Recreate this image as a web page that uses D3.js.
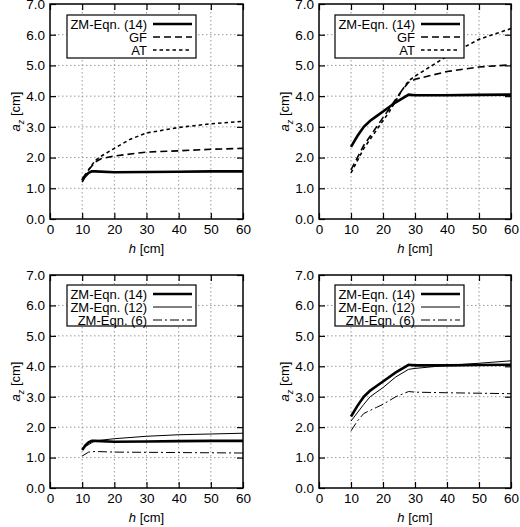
<!DOCTYPE html><html><head><script src="https://cdn.jsdelivr.net/npm/d3@7"></script>
<style>body{margin:0;background:#fff}text{font-family:"Liberation Sans",Arial,sans-serif;font-size:13px}</style></head><body>
<svg id="c" width="520" height="527"></svg>
<script>
const xTicks=[0,10,20,30,40,50,60];
const yTicks=[0,1,2,3,4,5,6,7];
const h1=[10,11,12,13,14,20,30,40,50,60];
const zmA=[1.25,1.4,1.5,1.55,1.55,1.52,1.53,1.54,1.55,1.55];
const hGF=[10,12,14,16,20,30,40,50,60];
const gfA=[1.3,1.6,1.85,1.97,2.05,2.18,2.22,2.27,2.3];
const hAT=[10,12,14,16,20,25,30,40,50,60];
const atA=[1.2,1.6,1.9,2.05,2.3,2.6,2.8,2.98,3.1,3.18];
const h2=[10,12,14,16,18,20,24,28,30,40,50,60];
const zmB=[2.35,2.7,3.0,3.2,3.35,3.5,3.8,4.05,4.03,4.03,4.04,4.05];
const hGF2=[10,14,18,22,26,28,30,40,50,60];
const gfB=[1.6,2.4,3.0,3.6,4.2,4.45,4.55,4.8,4.95,5.02];
const atB=[1.5,2.3,2.9,3.5,4.2,4.5,4.65,5.3,5.85,6.2];
const h12a=[10,14,20,30,40,60];
const e12A=[1.3,1.55,1.62,1.7,1.75,1.8];
const h6a=[10,12,14,20,60];
const e6A=[1.05,1.18,1.2,1.18,1.15];
const h12b=[10,14,16,20,24,28,30,40,50,60];
const e12B=[2.2,2.75,3.0,3.3,3.65,3.9,3.93,4.03,4.1,4.18];
const h6b=[10,12,14,18,20,24,28,30,40,60];
const e6B=[1.88,2.2,2.45,2.65,2.75,3.0,3.17,3.15,3.13,3.1];

const S={zm:{w:2.6,d:null},gf:{w:1.6,d:"7,4"},at:{w:1.6,d:"3.5,3"},e12:{w:1,d:null},e6:{w:1,d:"9,3,2,3"}};
const panels=[
 {x0:50,x1:243,y0:4,y1:219,series:[["ZM-Eqn. (14)","zm",h1,zmA],["GF","gf",hGF,gfA],["AT","at",hAT,atA]],leg:[67,15]},
 {x0:319,x1:511,y0:4,y1:219,series:[["ZM-Eqn. (14)","zm",h2,zmB],["GF","gf",hGF2,gfB],["AT","at",hGF2,atB]],leg:[335,15]},
 {x0:50,x1:243,y0:275,y1:488,series:[["ZM-Eqn. (14)","zm",h1,zmA],["ZM-Eqn. (12)","e12",h12a,e12A],["ZM-Eqn. (6)","e6",h6a,e6A]],leg:[67,285]},
 {x0:319,x1:511,y0:275,y1:488,series:[["ZM-Eqn. (14)","zm",h2,zmB],["ZM-Eqn. (12)","e12",h12b,e12B],["ZM-Eqn. (6)","e6",h6b,e6B]],leg:[335,285]}
];
const svg=d3.select("#c");
panels.forEach(p=>{
 const x=d3.scaleLinear().domain([0,60]).range([p.x0,p.x1]);
 const y=d3.scaleLinear().domain([0,7]).range([p.y1,p.y0]);
 const g=svg.append("g");
 g.selectAll(".gx").data(xTicks.slice(1,-1)).join("line").attr("x1",x).attr("x2",x).attr("y1",p.y0).attr("y2",p.y1).attr("stroke","#999").attr("stroke-dasharray","1.5,2.5");
 g.selectAll(".gy").data(yTicks.slice(1,-1)).join("line").attr("y1",y).attr("y2",y).attr("x1",p.x0).attr("x2",p.x1).attr("stroke","#999").attr("stroke-dasharray","1.5,2.5");
 const ax=g.append("g").attr("transform",`translate(0,${p.y1})`).call(d3.axisBottom(x).tickValues(xTicks).tickSize(-6).tickPadding(5));
 const ay=g.append("g").attr("transform",`translate(${p.x0},0)`).call(d3.axisLeft(y).tickValues(yTicks).tickFormat(d3.format(".1f")).tickSize(-6).tickPadding(5));
 const axt=g.append("g").attr("transform",`translate(0,${p.y0})`).call(d3.axisTop(x).tickValues(xTicks).tickSize(-6).tickFormat(""));
 const ayr=g.append("g").attr("transform",`translate(${p.x1},0)`).call(d3.axisRight(y).tickValues(yTicks).tickSize(-6).tickFormat(""));
 [ax,ay,axt,ayr].forEach(a=>{a.select(".domain").remove();a.selectAll("line").attr("stroke","#000").attr("stroke-width",1.2);a.selectAll("text").attr("fill","#000").style("font-size","13.5px");});
 g.append("rect").attr("x",p.x0).attr("y",p.y0).attr("width",p.x1-p.x0).attr("height",p.y1-p.y0).attr("fill","none").attr("stroke","#000").attr("stroke-width",1.5);
 const t=g.append("text").attr("x",(p.x0+p.x1)/2).attr("y",p.y1+34).attr("text-anchor","middle");
 t.append("tspan").attr("font-style","italic").text("h");t.append("tspan").text(" [cm]");
 const yl=g.append("text").attr("transform",`translate(${p.x0-30},${(p.y0+p.y1)/2}) rotate(-90)`).attr("text-anchor","middle");
 yl.append("tspan").attr("font-style","italic").text("a");yl.append("tspan").attr("font-style","italic").attr("dy",4).style("font-size","9px").text("z");yl.append("tspan").attr("dy",-4).text(" [cm]");
 const line=d3.line().x(d=>x(d[0])).y(d=>y(d[1]));
 p.series.forEach(s=>{const st=S[s[1]];g.append("path").datum(s[2].map((h,i)=>[h,s[3][i]])).attr("d",line).attr("fill","none").attr("stroke","#000").attr("stroke-width",st.w).attr("stroke-dasharray",st.d);});
 const [lx,ly]=p.leg;
 g.append("rect").attr("x",lx).attr("y",ly).attr("width",129).attr("height",p.y0<100?43:41).attr("fill","#fff").attr("stroke","#000").attr("stroke-width",1.2);
 p.series.forEach((s,i)=>{const st=S[s[1]];const yy=ly+9+i*13;
  g.append("text").attr("x",lx+80).attr("y",yy+4.5).attr("text-anchor","end").text(s[0]);
  g.append("line").attr("x1",lx+86).attr("x2",lx+125).attr("y1",yy).attr("y2",yy).attr("stroke","#000").attr("stroke-width",st.w).attr("stroke-dasharray",st.d);});
});
</script></body></html>
